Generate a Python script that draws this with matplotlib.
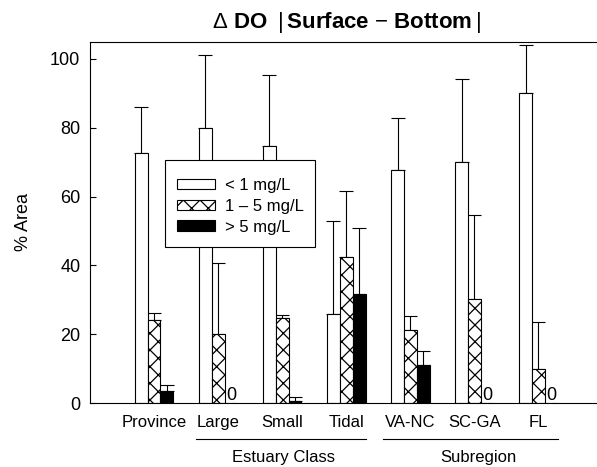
import numpy as np
import matplotlib
matplotlib.use("Agg")
import matplotlib.pyplot as plt
from matplotlib.patches import Rectangle

# ------------------------------------------
# Fonts / global style
# ------------------------------------------
plt.rcParams['font.family'] = ['Liberation Sans', 'DejaVu Sans']
plt.rcParams['mathtext.fontset'] = 'custom'
plt.rcParams['mathtext.rm'] = 'Liberation Sans'
plt.rcParams['mathtext.it'] = 'Liberation Sans:italic'
plt.rcParams['mathtext.bf'] = 'Liberation Sans:bold'
plt.rcParams['hatch.linewidth'] = 0.9

# ------------------------------------------
# Data: % area by DO difference class
# ------------------------------------------
groups = ['Province', 'Large', 'Small', 'Tidal', 'VA-NC', 'SC-GA', 'FL']

low_vals = [72.6, 80.0, 74.8, 26.0, 67.7, 69.9, 90.2]     # < 1 mg/L
low_err = [13.4, 21.0, 20.5, 27.0, 15.2, 24.4, 13.7]

mid_vals = [24.1, 20.0, 24.6, 42.5, 21.1, 30.1, 9.9]      # 1 - 5 mg/L
mid_err = [2.0, 20.8, 1.1, 19.1, 4.3, 24.4, 13.7]

high_vals = [3.5, 0.0, 0.5, 31.7, 11.0, 0.0, 0.0]         # > 5 mg/L
high_err = [1.7, 0.0, 1.2, 19.1, 4.2, 0.0, 0.0]

class_labels = ['Estuary Class', 'Subregion']
class_spans = [(0.66, 3.30), (3.575, 6.31)]
class_text_x = [2.02, 5.07]

# ------------------------------------------
# Plot
# ------------------------------------------
fig = plt.figure(figsize=(5.97, 4.67), dpi=100)
ax = fig.add_axes([0.1508, 0.137, 0.8585, 0.7737])

x = np.arange(len(groups))
w = 0.2
series = [
    (low_vals, low_err, -w, 'white', '', '< 1 mg/L'),
    (mid_vals, mid_err, 0.0, 'white', 'xx', '1 – 5 mg/L'),
    (high_vals, high_err, w, 'black', '', '> 5 mg/L'),
]

for vals, errs, off, fc, hatch, lab in series:
    vals = np.array(vals)
    errs = np.array(errs)
    ax.bar(x + off, vals, width=w, color=fc, edgecolor='black',
           linewidth=0.8, hatch=hatch, label=lab, zorder=2)
    keep = vals > 0
    ax.errorbar(x[keep] + off, vals[keep],
                yerr=[np.zeros(keep.sum()), errs[keep]],
                fmt='none', ecolor='black', elinewidth=0.8,
                capsize=4.7, capthick=0.8, zorder=1)
    # zero-valued bars get a "0" marker
    for xi in x[~keep]:
        ax.text(xi + off, 1.0, '0', ha='center', va='baseline', fontsize=13)

ax.set_xlim(-1, 7)
ax.set_ylim(0, 105)
ax.set_yticks([0, 20, 40, 60, 80, 100])
ax.set_xticks(x)
ax.set_xticklabels(groups)
ax.tick_params(axis='y', direction='in', length=4, width=0.8, labelsize=13, pad=7)
ax.tick_params(axis='x', length=0, labelsize=12, pad=8.5)
ax.spines['right'].set_visible(False)
for s in ['left', 'top', 'bottom']:
    ax.spines[s].set_linewidth(0.8)

ax.text(-0.1307, 0.5, '% Area', rotation=90, transform=ax.transAxes,
        ha='center', va='center', fontsize=13)

ax.set_title(r'$\Delta$ DO $\;|\,$Surface $-$ Bottom$\:|$', fontsize=16,
             fontweight='bold', pad=10)

# group brackets under the tick labels
trans = ax.get_xaxis_transform()
for lab, (x0, x1), tx in zip(class_labels, class_spans, class_text_x):
    ax.plot([x0, x1], [-0.1005, -0.1005], color='black', lw=0.8,
            transform=trans, clip_on=False)
    ax.text(tx, -0.152, lab, transform=trans, ha='center', va='center',
            fontsize=12)

# legend box: white frame drawn separately so the padding can differ
# vertically and horizontally
box = Rectangle((0.1463, 0.4318), 0.2927, 0.2408, transform=ax.transAxes,
                facecolor='white', edgecolor='black', linewidth=0.8, zorder=4)
ax.add_patch(box)
leg = ax.legend(loc='upper left', bbox_to_anchor=(0.1463, 0.656),
                borderaxespad=0, frameon=False, fontsize=12, handlelength=2.3,
                handleheight=0.6, handletextpad=0.6, labelspacing=0.35,
                borderpad=0.72)
leg.set_zorder(5)

plt.savefig('out.png', dpi=100)
